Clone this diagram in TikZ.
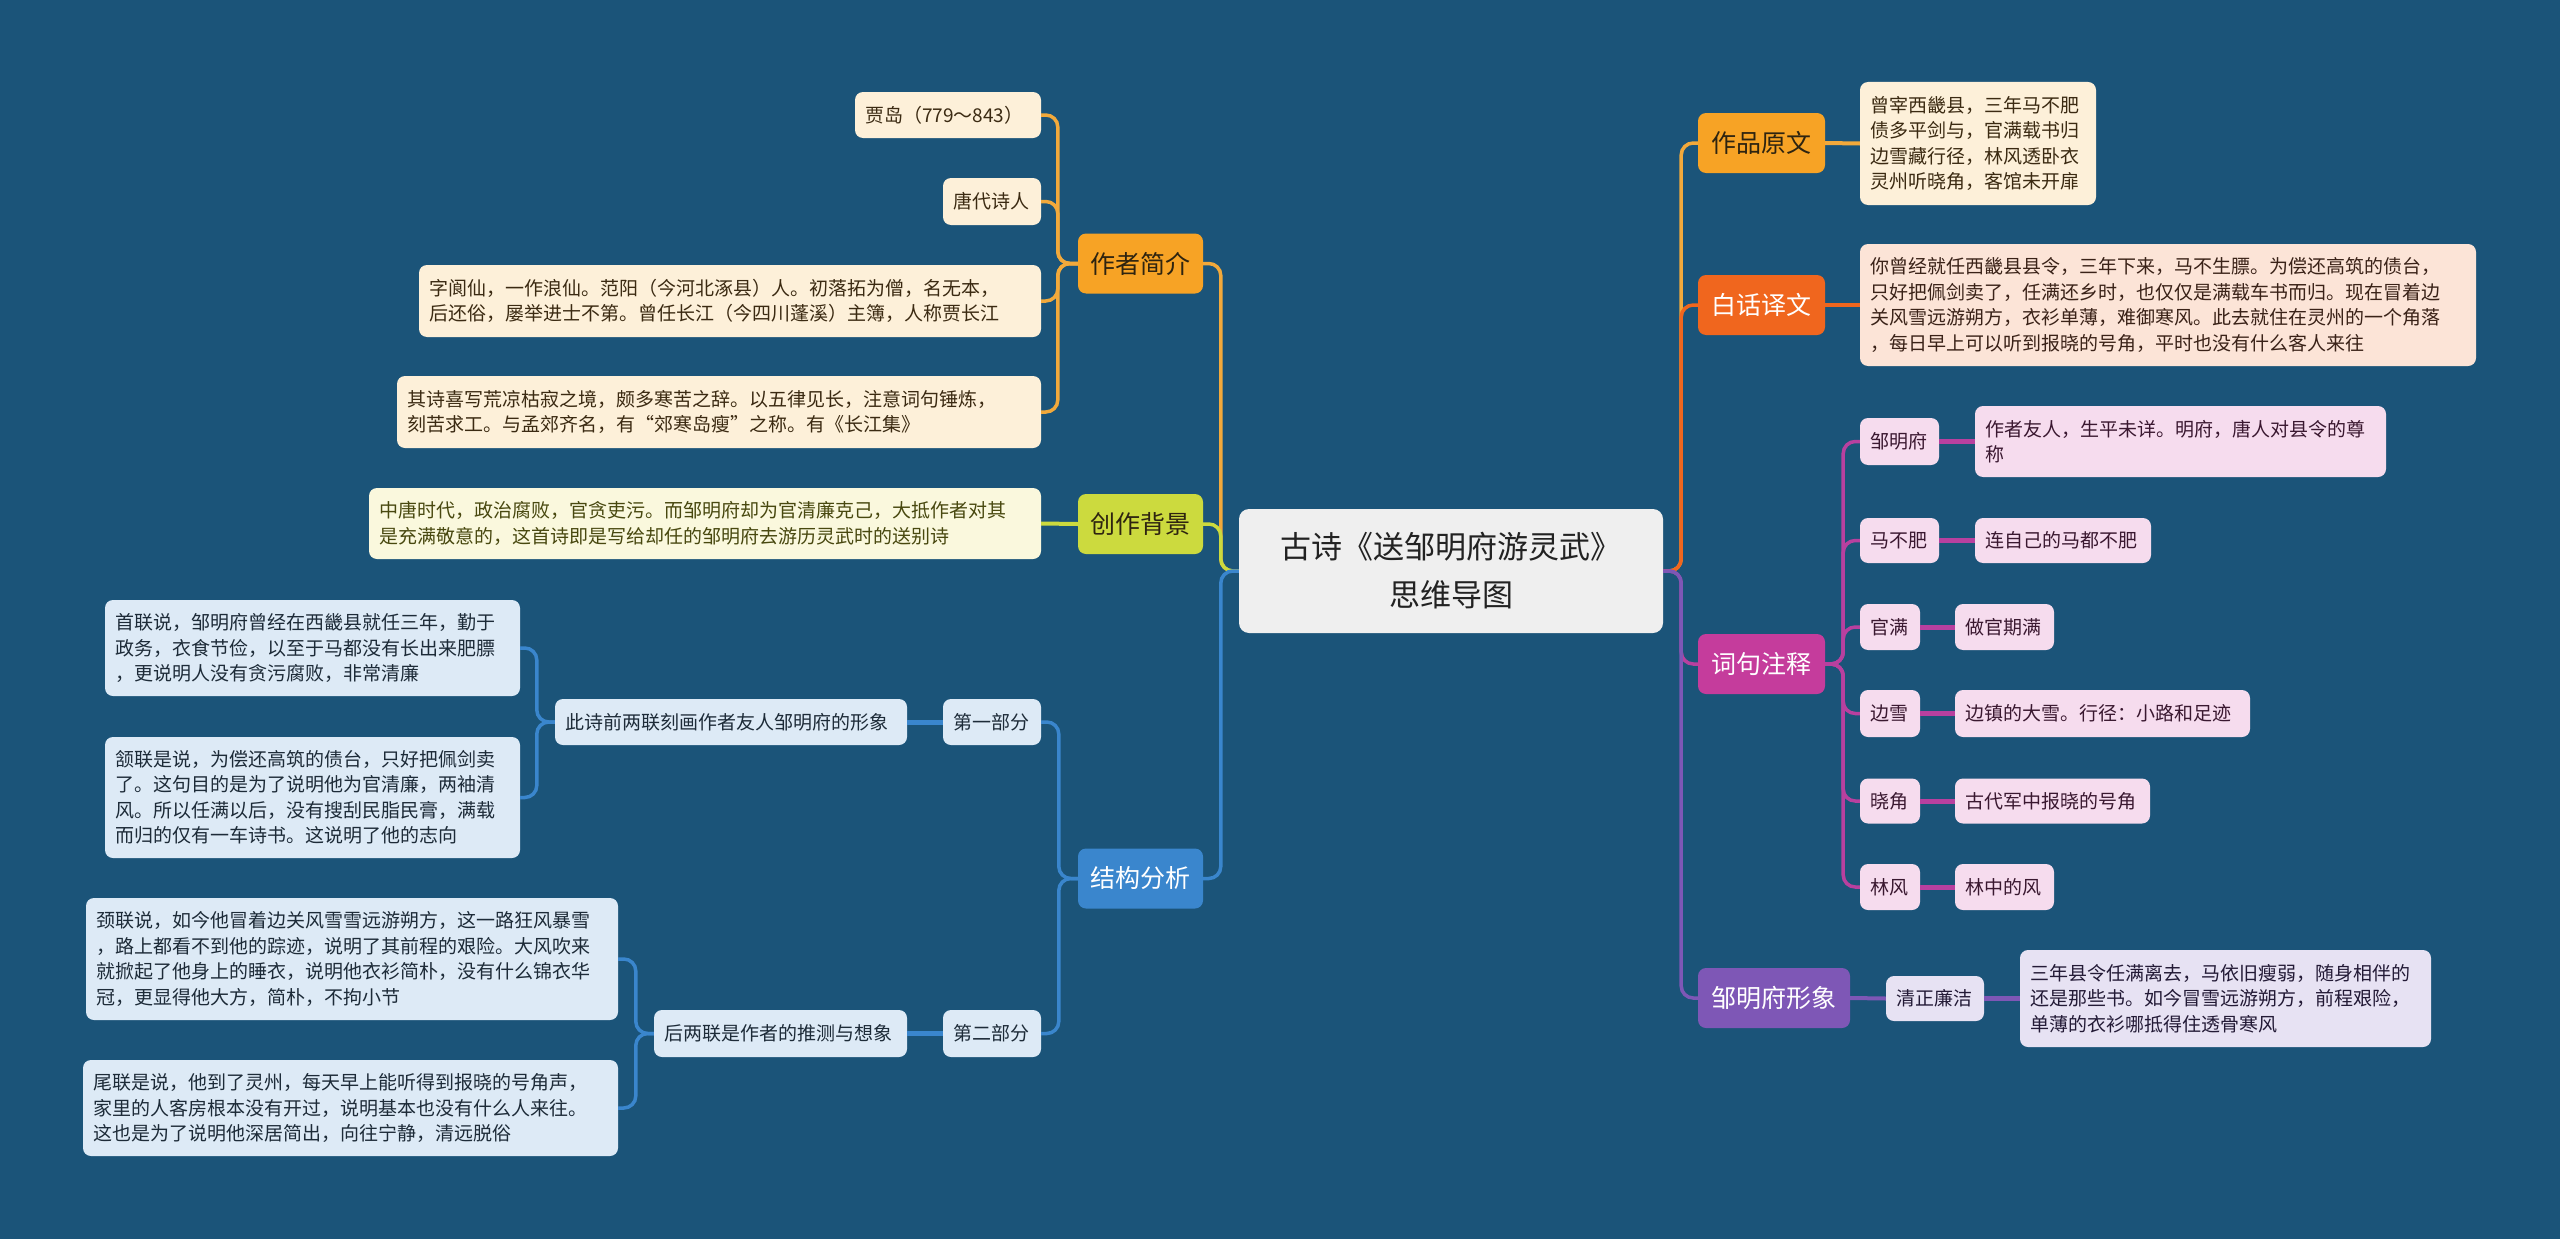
\documentclass[tikz,border=0pt]{standalone}
\usepackage{fontspec}
\setmainfont{Noto Sans CJK SC}
\definecolor{bg}{HTML}{1B5479}
\definecolor{orgA}{HTML}{F7A325}
\definecolor{orgLine}{HTML}{F2A93B}
\definecolor{cream}{HTML}{FDF0D9}
\definecolor{creamtx}{HTML}{3B2A12}
\definecolor{ygB}{HTML}{CCDA3E}
\definecolor{ylw}{HTML}{FAF8DD}
\definecolor{ylwtx}{HTML}{48480F}
\definecolor{bluC}{HTML}{3A86CD}
\definecolor{lbl}{HTML}{DDEAF6}
\definecolor{lbltx}{HTML}{1D2B38}
\definecolor{redE}{HTML}{F0661E}
\definecolor{peach}{HTML}{FCE4D7}
\definecolor{peachtx}{HTML}{3A2218}
\definecolor{magF}{HTML}{C53C9C}
\definecolor{magLine}{HTML}{B8409F}
\definecolor{pinkL}{HTML}{F6DCEE}
\definecolor{pinktx}{HTML}{3A1830}
\definecolor{purG}{HTML}{7E57B6}
\definecolor{lav}{HTML}{E7E2F3}
\definecolor{lavtx}{HTML}{231A36}
\definecolor{ctrfill}{HTML}{EFEFEF}
\definecolor{ctrtx}{HTML}{222222}
\definecolor{darktx}{HTML}{2E2410}
\newcommand{\leaffont}{\fontsize{19}{25.5}\selectfont}
\newcommand{\mainfont}{\fontsize{25}{30}\selectfont}
\newcommand{\ctrfont}{\fontsize{31}{48}\selectfont}
\tikzset{
  lf/.style 2 args={rounded corners=8pt, inner xsep=10pt, inner ysep=0pt,
     text width=#1, minimum height=#2, align=left, font=\leaffont},
  mainbx/.style={rounded corners=8pt, inner sep=0pt, minimum width=#1,
     minimum height=60pt, align=center, font=\mainfont},
  mainbx/.default=125pt,
  ctrbx/.style={rounded corners=10pt, inner sep=0pt, minimum width=424pt,
     minimum height=124pt, align=center, font=\ctrfont, fill=ctrfill, text=ctrtx},
  bA/.style={fill=cream, text=creamtx},
  bB/.style={fill=ylw, text=ylwtx},
  bC/.style={fill=lbl, text=lbltx},
  bE/.style={fill=peach, text=peachtx},
  bF/.style={fill=pinkL, text=pinktx},
  bG/.style={fill=lav, text=lavtx},
  con/.style={line width=3.5pt, rounded corners=12pt},
  con2/.style={line width=4pt},
  con3/.style={line width=5pt},
}
\begin{document}
\begin{tikzpicture}[x=1pt,y=-1pt]
\fill[bg] (0,0) rectangle (2560,1239);
\useasboundingbox (0,0) rectangle (2560,1239);

% center
\node[ctrbx] (ctr) at (1451,571) {古诗《送邹明府游灵武》\\思维导图};

% left main branches
\node[mainbx, fill=orgA, text=darktx] (A) at (1140.5,263.5) {作者简介};
\node[mainbx, fill=ygB, text=darktx] (B) at (1140.5,524) {创作背景};
\node[mainbx, fill=bluC, text=white] (C) at (1140.5,878.5) {结构分析};

% right main branches
\node[mainbx=127pt, fill=orgA, text=darktx] (D) at (1761.5,143) {作品原文};
\node[mainbx=127pt, fill=redE, text=white] (E) at (1761.5,305) {白话译文};
\node[mainbx=127pt, fill=magF, text=white] (F) at (1761.5,664) {词句注释};
\node[mainbx=152pt, fill=purG, text=white] (G) at (1774,998) {邹明府形象};

% A leaves
\node[lf={166pt}{46pt}, bA] (a1) at (948,115) {贾岛（779～843）};
\node[lf={78pt}{47pt}, bA] (a2) at (992,201.5) {唐代诗人};
\node[lf={602pt}{72pt}, bA] (a3) at (730,301) {字阆仙，一作浪仙。范阳（今河北涿县）人。初落拓为僧，名无本，\\后还俗，屡举进士不第。曾任长江（今四川蓬溪）主簿，人称贾长江};
\node[lf={624pt}{72pt}, bA] (a4) at (719,412) {其诗喜写荒凉枯寂之境，颇多寒苦之辞。以五律见长，注意词句锤炼，\\刻苦求工。与孟郊齐名，有“郊寒岛瘦”之称。有《长江集》};

% B leaf
\node[lf={652pt}{71pt}, bB] (b1) at (705,523.5) {中唐时代，政治腐败，官贪吏污。而邹明府却为官清廉克己，大抵作者对其\\是充满敬意的，这首诗即是写给却任的邹明府去游历灵武时的送别诗};

% C subtree
\node[lf={78pt}{46pt}, bC] (c1) at (992,722) {第一部分};
\node[lf={332pt}{46pt}, bC] (c11) at (731,722) {此诗前两联刻画作者友人邹明府的形象};
\node[lf={395pt}{96pt}, bC] (c111) at (312.5,648) {首联说，邹明府曾经在西畿县就任三年，勤于\\政务，衣食节俭，以至于马都没有长出来肥膘\\，更说明人没有贪污腐败，非常清廉};
\node[lf={395pt}{121pt}, bC] (c112) at (312.5,797.5) {颔联是说，为偿还高筑的债台，只好把佩剑卖\\了。这句目的是为了说明他为官清廉，两袖清\\风。所以任满以后，没有搜刮民脂民膏，满载\\而归的仅有一车诗书。这说明了他的志向};
\node[lf={78pt}{47pt}, bC] (c2) at (992,1033.5) {第二部分};
\node[lf={233pt}{47pt}, bC] (c21) at (780.5,1033.5) {后两联是作者的推测与想象};
\node[lf={512pt}{122pt}, bC] (c211) at (352,959) {颈联说，如今他冒着边关风雪雪远游朔方，这一路狂风暴雪\\，路上都看不到他的踪迹，说明了其前程的艰险。大风吹来\\就掀起了他身上的睡衣，说明他衣衫简朴，没有什么锦衣华\\冠，更显得他大方，简朴，不拘小节};
\node[lf={515pt}{96pt}, bC] (c212) at (350.5,1108) {尾联是说，他到了灵州，每天早上能听得到报晓的号角声，\\家里的人客房根本没有开过，说明基本也没有什么人来往。\\这也是为了说明他深居简出，向往宁静，清远脱俗};

% D, E leaves
\node[lf={216pt}{123pt}, bA] (d1) at (1978,143.5) {曾宰西畿县，三年马不肥\\债多平剑与，官满载书归\\边雪藏行径，林风透卧衣\\灵州听晓角，客馆未开扉};
\node[lf={596pt}{122pt}, bE] (e1) at (2168,305) {你曾经就任西畿县县令，三年下来，马不生膘。为偿还高筑的债台，\\只好把佩剑卖了，任满还乡时，也仅仅是满载车书而归。现在冒着边\\关风雪远游朔方，衣衫单薄，难御寒风。此去就住在灵州的一个角落\\，每日早上可以听到报晓的号角，平时也没有什么客人来往};

% F subtree
\node[lf={59pt}{47pt}, bF] (f1) at (1899.5,441.5) {邹明府};
\node[lf={391pt}{71pt}, bF] (f1a) at (2180.5,441.5) {作者友人，生平未详。明府，唐人对县令的尊\\称};
\node[lf={59pt}{45pt}, bF] (f2) at (1899.5,540.5) {马不肥};
\node[lf={156pt}{45pt}, bF] (f2a) at (2063,540.5) {连自己的马都不肥};
\node[lf={40pt}{46pt}, bF] (f3) at (1890,627) {官满};
\node[lf={79pt}{46pt}, bF] (f3a) at (2004.5,627) {做官期满};
\node[lf={40pt}{47pt}, bF] (f4) at (1890,713.5) {边雪};
\node[lf={275pt}{47pt}, bF] (f4a) at (2102.5,713.5) {边镇的大雪。行径：小路和足迹};
\node[lf={40pt}{45pt}, bF] (f5) at (1890,801) {晓角};
\node[lf={175pt}{45pt}, bF] (f5a) at (2052.5,801) {古代军中报晓的号角};
\node[lf={40pt}{46pt}, bF] (f6) at (1890,887) {林风};
\node[lf={79pt}{46pt}, bF] (f6a) at (2004.5,887) {林中的风};

% G subtree
\node[lf={78pt}{45pt}, bG] (g1) at (1935,998.5) {清正廉洁};
\node[lf={391pt}{97pt}, bG] (g1a) at (2225.5,998.5) {三年县令任满离去，马依旧瘦弱，随身相伴的\\还是那些书。如今冒雪远游朔方，前程艰险，\\单薄的衣衫哪抵得住透骨寒风};

% ---------- connectors ----------
\draw[con, orgLine] (ctr.west) -- ++(-18,0) |- (A.east);
\draw[con, ygB] (ctr.west) -- ++(-18,0) |- (B.east);
\draw[con, bluC] (ctr.west) -- ++(-18,0) |- (C.east);

\draw[con, orgLine] (ctr.east) -- ++(18,0) |- (D.west);
\draw[con, redE] (ctr.east) -- ++(18,0) |- (E.west);
\draw[con, magLine] (ctr.east) -- ++(18,0) |- (F.west);
\draw[con, purG] (ctr.east) -- ++(18,0) |- (G.west);

\foreach \t in {a1,a2,a3,a4}
  \draw[con, orgLine] (A.west) -- ++(-20,0) |- (\t.east);
\draw[con2, ygB] (B.west) -- (b1.east);

\draw[con, bluC] (C.west) -- ++(-19,0) |- (c1.east);
\draw[con, bluC] (C.west) -- ++(-19,0) |- (c2.east);
\draw[con3, bluC] (c1.west) -- (c11.east);
\draw[con3, bluC] (c2.west) -- (c21.east);
\draw[con, bluC] (c11.west) -- ++(-18,0) |- (c111.east);
\draw[con, bluC] (c11.west) -- ++(-18,0) |- (c112.east);
\draw[con, bluC] (c21.west) -- ++(-18,0) |- (c211.east);
\draw[con, bluC] (c21.west) -- ++(-18,0) |- (c212.east);

\draw[con2, orgLine] (D.east) -- (d1.west);
\draw[con2, redE] (E.east) -- (e1.west);

\foreach \t in {f1,f2,f3,f4,f5,f6}
  \draw[con, magLine] (F.east) -- ++(18,0) |- (\t.west);
\foreach \t in {f1,f2,f3,f4,f5,f6}
  \draw[con3, magLine] (\t.east) -- (\t a.west);

\draw[con2, purG] (G.east) -- (g1.west);
\draw[con3, purG] (g1.east) -- (g1a.west);
\end{tikzpicture}
\end{document}
